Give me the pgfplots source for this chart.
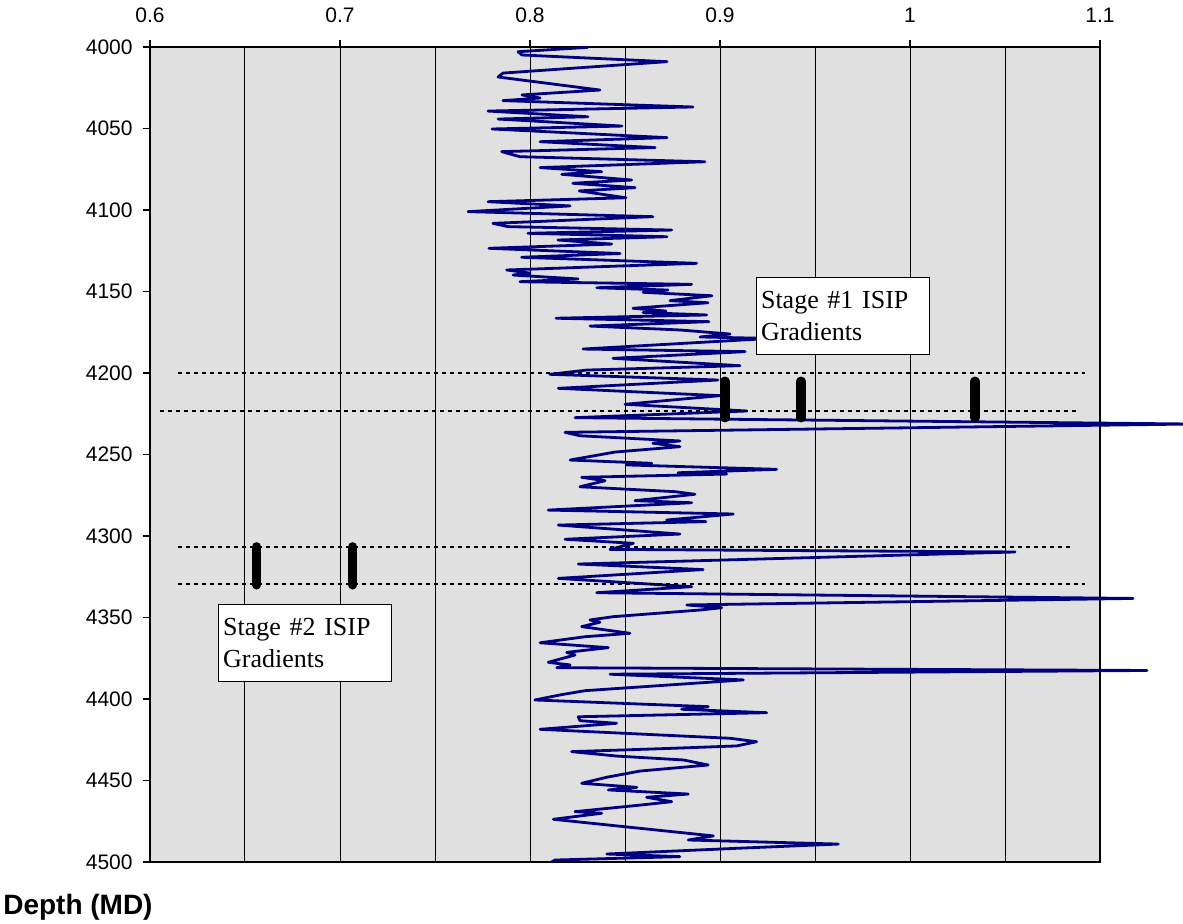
\documentclass[border=0pt]{standalone}
\usepackage{fontspec}
\setmainfont{Liberation Sans}
\newfontfamily\serifbox{Liberation Serif}
\usepackage{pgfplots}
\pgfplotsset{compat=1.18}
\definecolor{logblue}{RGB}{0,0,128}
\definecolor{plotbg}{RGB}{224,224,224}
\begin{document}
\begin{tikzpicture}
\begin{axis}[
  scale only axis, width=475pt, height=407.5pt,
  xmin=0.6, xmax=1.1, ymin=4000, ymax=4500, y dir=reverse,
  clip=false,
  axis background/.style={fill=plotbg},
  xtick={0.6,0.7,0.8,0.9,1.0,1.1},
  xticklabels={0.6,0.7,0.8,0.9,1,1.1},
  minor xtick={0.65,0.75,0.85,0.95,1.05},
  xmajorgrids, xminorgrids,
  major grid style={black, line width=0.5pt},
  minor grid style={black, line width=0.5pt},
  ytick={4000,4050,4100,4150,4200,4250,4300,4350,4400,4450,4500},
  yticklabels={4000,4050,4100,4150,4200,4250,4300,4350,4400,4450,4500},
  xtick pos=right, xticklabel pos=right, ytick pos=left,
  tick align=outside, major tick length=3.5pt, minor tick length=0pt,
  tick style={black, line width=0.6pt},
  axis line style={black, line width=0.9pt},
  ticklabel style={font=\fontsize{10.5}{12}\selectfont},
  xticklabel style={anchor=base, inner sep=0pt, yshift=8.75pt},
  yticklabel style={anchor=east, inner sep=0pt, xshift=-5pt},
]
\addplot[logblue, line width=1.4pt, line join=round, mark=none] coordinates {
(0.8305,4000.2) (0.7937,4002.9) (0.7958,4004.9) (0.8721,4009.0) (0.7858,4016.0)
(0.7832,4018.4) (0.8368,4026.4) (0.7958,4029.4) (0.8053,4031.3) (0.7858,4032.9)
(0.8858,4036.8) (0.7779,4039.3) (0.8305,4042.8) (0.7832,4044.2) (0.8484,4048.5)
(0.7800,4050.3) (0.8721,4055.6) (0.8053,4058.1) (0.8658,4061.7) (0.7851,4064.2)
(0.7947,4067.3) (0.8921,4070.4) (0.8053,4074.0) (0.8377,4076.5) (0.8167,4078.1)
(0.8535,4081.6) (0.8225,4083.6) (0.8553,4086.3) (0.8259,4088.3) (0.8505,4092.5)
(0.7779,4094.9) (0.8211,4097.5) (0.7674,4101.0) (0.8647,4104.1) (0.7805,4108.2)
(0.7884,4110.2) (0.8746,4112.3) (0.7989,4114.3) (0.8721,4116.4) (0.8147,4118.4)
(0.8430,4120.9) (0.7784,4123.5) (0.8474,4126.7) (0.7956,4129.0) (0.8877,4132.7)
(0.7877,4136.8) (0.8000,4138.7) (0.7911,4139.9) (0.8253,4142.3) (0.7947,4144.0)
(0.8851,4145.6) (0.8351,4147.7) (0.8726,4149.1) (0.8595,4150.5) (0.8958,4152.6)
(0.8737,4155.6) (0.8937,4156.9) (0.8542,4160.3) (0.8716,4162.0) (0.8595,4162.9)
(0.8930,4164.4) (0.8137,4166.4) (0.8942,4168.5) (0.8316,4171.2) (0.8789,4173.6)
(0.9053,4176.1) (0.8895,4177.9) (0.9263,4178.8) (0.8279,4185.3) (0.9132,4186.9)
(0.8437,4191.0) (0.9105,4195.5) (0.8298,4198.2) (0.8105,4200.8) (0.8989,4204.3)
(0.8149,4209.4) (0.9000,4213.9) (0.8500,4219.2) (0.9141,4223.3) (0.8237,4227.4)
(1.1480,4231.3) (0.8184,4236.4) (0.8263,4238.5) (0.8789,4241.7) (0.8647,4243.1)
(0.8789,4245.2) (0.8447,4248.5) (0.8211,4253.4) (0.8641,4255.4) (0.8509,4256.4)
(0.9298,4259.1) (0.8779,4261.2) (0.9035,4262.0) (0.8272,4264.0) (0.8395,4266.1)
(0.8263,4269.8) (0.8763,4272.8) (0.8868,4274.4) (0.8553,4278.3) (0.8851,4279.6)
(0.8096,4284.1) (0.9070,4286.5) (0.8719,4290.2) (0.8926,4291.2) (0.8149,4293.3)
(0.8789,4298.8) (0.8184,4302.0) (0.8544,4304.5) (0.8421,4308.2) (1.0553,4309.8)
(0.8254,4317.2) (0.8911,4320.6) (0.8149,4326.0) (0.8851,4331.1) (0.8351,4334.8)
(1.1174,4338.3) (0.8825,4342.3) (0.9009,4344.0) (0.8895,4345.4) (0.8438,4349.5)
(0.8316,4351.5) (0.8368,4352.9) (0.8272,4355.6) (0.8526,4359.7) (0.8289,4361.8)
(0.8053,4365.5) (0.8412,4368.5) (0.8193,4371.4) (0.8237,4373.0) (0.8096,4377.5)
(0.8211,4379.1) (0.8141,4380.8) (1.1247,4382.5) (0.8421,4384.8) (0.9123,4388.3)
(0.8289,4394.9) (0.8158,4397.5) (0.8026,4400.6) (0.8938,4404.7) (0.8798,4406.3)
(0.9246,4408.4) (0.8254,4410.9) (0.8263,4413.3) (0.8456,4414.9) (0.8053,4418.6)
(0.9053,4424.1) (0.9193,4426.2) (0.9088,4428.8) (0.8737,4430.3) (0.8219,4432.3)
(0.8456,4435.0) (0.8807,4437.4) (0.8938,4440.5) (0.8579,4444.2) (0.8404,4448.0)
(0.8272,4451.7) (0.8562,4454.2) (0.8412,4455.8) (0.8833,4458.3) (0.8614,4460.3)
(0.8746,4463.0) (0.8588,4465.0) (0.8237,4469.1) (0.8377,4470.1) (0.8123,4473.8)
(0.8667,4480.4) (0.8965,4484.0) (0.8833,4486.5) (0.9623,4489.0) (0.9088,4491.6)
(0.8404,4495.1) (0.8789,4496.7) (0.8132,4498.8) (0.8114,4500.0)
};
% dotted stage boundaries
\addplot[black, line width=1pt, dash pattern=on 2pt off 2pt] coordinates {(0.6147,4200.3) (1.0921,4200.3)};
\addplot[black, line width=1pt, dash pattern=on 2pt off 2pt] coordinates {(0.6053,4223.3) (1.0884,4223.3)};
\addplot[black, line width=1pt, dash pattern=on 2pt off 2pt] coordinates {(0.6147,4306.6) (1.0858,4306.6)};
\addplot[black, line width=1pt, dash pattern=on 2pt off 2pt] coordinates {(0.6147,4329.6) (1.0921,4329.6)};
% ISIP gradient markers
\addplot[black, line width=4.6pt, line cap=round] coordinates {(0.9026,4205.0) (0.9026,4227.5)};
\addplot[black, line width=4.6pt, line cap=round] coordinates {(0.9426,4205.0) (0.9426,4227.5)};
\addplot[black, line width=4.6pt, line cap=round] coordinates {(1.0342,4205.0) (1.0342,4227.5)};
\addplot[black, line width=4.6pt, line cap=round] coordinates {(0.6561,4306.6) (0.6561,4330.0)};
\addplot[black, line width=4.6pt, line cap=round] coordinates {(0.7067,4306.6) (0.7067,4330.0)};
% text boxes
\node[draw=black, line width=0.65pt, fill=white, anchor=north west,
      minimum width=86.5pt, minimum height=38.5pt, text width=82pt,
      inner xsep=2pt, inner ysep=0pt, align=left,
      font=\serifbox\fontsize{13}{16}\selectfont]
  at (axis cs:0.9189,4141.1) {Stage \#1 ISIP\\Gradients};
\node[draw=black, line width=0.65pt, fill=white, anchor=north west,
      minimum width=86.5pt, minimum height=38.5pt, text width=82pt,
      inner xsep=2pt, inner ysep=0pt, align=left,
      font=\serifbox\fontsize{13}{16}\selectfont]
  at (axis cs:0.6358,4341.7) {Stage \#2 ISIP\\Gradients};
\end{axis}
\node[anchor=base east, inner sep=0pt, font=\bfseries\fontsize{14}{16}\selectfont]
  at ([xshift=1.5pt,yshift=-26.5pt]current axis.south west) {Depth (MD)};
\pgfresetboundingbox
\path ([xshift=-75pt,yshift=-31pt]current axis.south west) rectangle ([xshift=41.5pt,yshift=23.5pt]current axis.north east);
\end{tikzpicture}
\end{document}
